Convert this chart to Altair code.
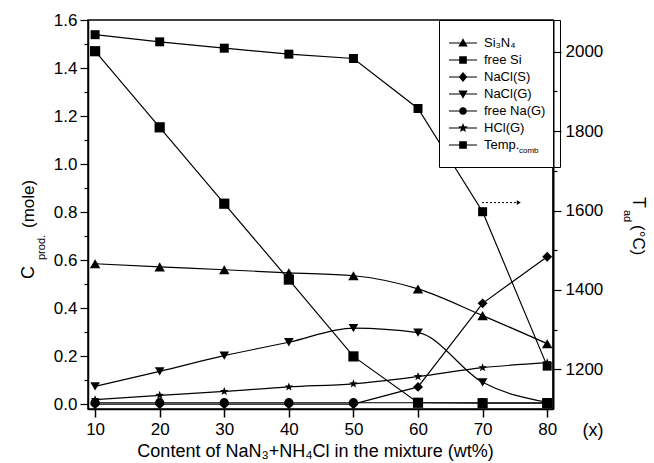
import math
import altair as alt
import pandas as pd

# ---- data -----------------------------------------------------------------
content = [10, 20, 30, 40, 50, 60, 70, 80]
si3n4 = [0.585, 0.572, 0.560, 0.547, 0.535, 0.480, 0.369, 0.252]
free_si = [1.470, 1.153, 0.835, 0.519, 0.199, 0.006, 0.004, 0.004]
nacl_s = [0.0, 0.0, 0.0, 0.0, 0.0, 0.072, 0.420, 0.614]
nacl_g = [0.074, 0.137, 0.202, 0.258, 0.317, 0.298, 0.091, 0.008]
free_na = [0.006, 0.006, 0.006, 0.006, 0.006, 0.006, 0.006, 0.006]
hcl_g = [0.019, 0.037, 0.053, 0.072, 0.085, 0.115, 0.152, 0.173]
temp_comb = [2043, 2025, 2009, 1994, 1983, 1857, 1597, 1208]

series_names = ["Si₃N₄", "free Si", "NaCl(S)", "NaCl(G)", "free Na(G)", "HCl(G)"]
temp_name = "Temp."
smooth_series = ["Si₃N₄", "NaCl(G)", "HCl(G)"]

x_ticks = [10, 20, 30, 40, 50, 60, 70, 80]
y_ticks = [round(0.1 * i, 1) for i in range(17)]
t_ticks = [1200, 1300, 1400, 1500, 1600, 1700, 1800, 1900, 2000]

X_DOMAIN = [8.9, 80.9]
Y_DOMAIN = [-0.02, 1.6]
T_DOMAIN = [1100, 2080]
FONT = "Liberation Sans"

left_values = [si3n4, free_si, nacl_s, nacl_g, free_na, hcl_g]
rows = []
for name, vals in zip(series_names, left_values):
    for xv, yv in zip(content, vals):
        rows.append({"content": xv, "value": yv, "series": name})
left_df = pd.DataFrame(rows)
temp_df = pd.DataFrame({"content": content, "temp": temp_comb, "series": temp_name})
legend_df = pd.concat([left_df[["content", "series"]], temp_df[["content", "series"]]])

# ---- marker shapes ----------------------------------------------------------
def star_path(r_out, r_in, cx=0.0):
    pts = []
    for i in range(10):
        ang = -math.pi / 2 + i * math.pi / 5
        r = r_out if i % 2 == 0 else r_in
        pts.append(f"{cx + r * math.cos(ang):.3f},{r * math.sin(ang):.3f}")
    return "M" + "L".join(pts) + "Z"

plot_shapes = ["triangle-up", "square", "diamond", "triangle-down", "circle",
               star_path(1.0, 0.42)]
plot_sizes = [110, 81, 110, 110, 95, 130]

# legend glyphs: a thin bar (the line) plus the marker, all wound clockwise
bar = "M-1.65,-0.06H1.65V0.06H-1.65Z"
legend_shapes = [
    bar + "M0,-0.55L0.55,0.4L-0.55,0.4Z",
    bar + "M-0.45,-0.45H0.45V0.45H-0.45Z",
    bar + "M0,-0.6L0.5,0L0,0.6L-0.5,0Z",
    bar + "M0,0.55L-0.55,-0.4L0.55,-0.4Z",
    bar + "M-0.45,0A0.45,0.45 0 1,1 0.45,0A0.45,0.45 0 1,1 -0.45,0Z",
    bar + star_path(0.6, 0.25),
    bar + "M-0.45,-0.45H0.45V0.45H-0.45Z",
]

# ---- encodings -------------------------------------------------------------
x_enc = alt.X(
    "content:Q",
    scale=alt.Scale(domain=X_DOMAIN, nice=False, zero=False),
    axis=alt.Axis(
        values=x_ticks, format="d", title="Content of NaN₃+NH₄Cl in the mixture (wt%)",
        titleFont=FONT, titleFontSize=18, titleFontWeight="normal", titleColor="black",
        titlePadding=5, titleX=227, labelFont=FONT, labelFontSize=17, labelColor="black",
        labelPadding=4, labelFlush=False, tickSize=8, tickColor="black", tickWidth=1.5,
        domainColor="black", domainWidth=1.5, grid=False,
    ),
)

major_left = "round(datum.value * 10) % 2 == 0"
y_left_axis = alt.Axis(
    values=y_ticks, title=None, grid=False,
    labelExpr=f"{major_left} ? format(datum.value, '.1f') : ''",
    labelFont=FONT, labelFontSize=17, labelColor="black", labelPadding=3,
    labelFlush=False, labelOverlap=False,
    tickSize={"condition": {"test": major_left, "value": 8}, "value": 4},
    tickColor="black", tickWidth=1.2, domainColor="black", domainWidth=1.5,
)
y_scale = alt.Scale(domain=Y_DOMAIN, nice=False, zero=False)

major_right = "datum.value % 200 == 0"
t_axis = alt.Axis(
    orient="right", values=t_ticks, title=None, grid=False,
    labelExpr=f"{major_right} ? format(datum.value, 'd') : ''",
    labelFont=FONT, labelFontSize=17, labelColor="black", labelPadding=4,
    labelFlush=False, labelOverlap=False,
    tickSize={"condition": {"test": major_right, "value": 8}, "value": 4},
    tickColor="black", tickWidth=1.2, domainColor="black", domainWidth=2,
)
t_scale = alt.Scale(domain=T_DOMAIN, nice=False, zero=False)

# ---- layers ----------------------------------------------------------------
smooth_lines = alt.Chart(left_df).transform_filter(
    alt.FieldOneOfPredicate(field="series", oneOf=smooth_series)
).mark_line(color="black", strokeWidth=1.2, interpolate="monotone").encode(
    x=x_enc,
    y=alt.Y("value:Q", scale=y_scale, axis=y_left_axis),
    detail="series:N",
)

straight_lines = alt.Chart(left_df).transform_filter(
    {"not": alt.FieldOneOfPredicate(field="series", oneOf=smooth_series)}
).mark_line(color="black", strokeWidth=1.2).encode(
    x=x_enc,
    y=alt.Y("value:Q", scale=y_scale, axis=None),
    detail="series:N",
)

left_points = alt.Chart(left_df).mark_point(filled=True, color="black", opacity=1).encode(
    x=x_enc,
    y=alt.Y("value:Q", scale=y_scale, axis=None),
    shape=alt.Shape("series:N", scale=alt.Scale(domain=series_names, range=plot_shapes), legend=None),
    size=alt.Size("series:N", scale=alt.Scale(domain=series_names, range=plot_sizes), legend=None),
)

temp_line = alt.Chart(temp_df).mark_line(color="black", strokeWidth=1.2).encode(
    x=x_enc,
    y=alt.Y("temp:Q", scale=t_scale, axis=t_axis),
)
temp_points = alt.Chart(temp_df).mark_point(
    filled=True, color="black", shape="square", size=81, opacity=1
).encode(
    x=x_enc,
    y=alt.Y("temp:Q", scale=t_scale, axis=None),
)

# dotted arrow pointing at the temperature axis
arrow_df = pd.DataFrame({"x0": [69.9], "x1": [75.6], "t": [1620]})
arrow_rule = alt.Chart(arrow_df).mark_rule(color="black", strokeWidth=1, strokeDash=[2, 2]).encode(
    x=alt.X("x0:Q", scale=alt.Scale(domain=X_DOMAIN, nice=False, zero=False)),
    x2="x1:Q",
    y=alt.Y("t:Q", scale=t_scale, axis=None),
)
arrow_head = alt.Chart(arrow_df).mark_point(
    shape="triangle-right", filled=True, color="black", size=22, opacity=1
).encode(
    x=alt.X("x1:Q", scale=alt.Scale(domain=X_DOMAIN, nice=False, zero=False)),
    y=alt.Y("t:Q", scale=t_scale, axis=None),
)

# white panel behind the legend so curves pass underneath it
legend_panel = alt.Chart(pd.DataFrame({"k": [0]})).mark_rect(color="white").encode(
    x=alt.value(351), x2=alt.value(465), y=alt.value(0), y2=alt.value(148),
)

legend_layer = alt.Chart(legend_df).mark_point(
    filled=True, color="black", size=289, clip=True, opacity=1
).encode(
    x=x_enc,
    y=alt.value(-1000),
    shape=alt.Shape(
        "series:N",
        scale=alt.Scale(domain=series_names + [temp_name], range=legend_shapes),
        legend=alt.Legend(
            title=None, orient="none", legendX=351, legendY=0, padding=14.5,
            strokeColor="black", symbolSize=289,
            symbolFillColor="black", symbolStrokeWidth=0, symbolOpacity=1,
            symbolOffset=1, labelOffset=12.5, rowPadding=1,
            labelFont=FONT, labelFontSize=13, labelColor="black", labelLimit=200,
            cornerRadius=0,
        ),
    ),
)

def label(text, x, y, size, angle=0, align="left", baseline="alphabetic"):
    return alt.Chart(pd.DataFrame({"k": [0]})).mark_text(
        text=text, font=FONT, fontSize=size, color="black", angle=angle,
        align=align, baseline=baseline,
    ).encode(x=alt.value(x), y=alt.value(y))

# axis titles with subscripts, positions relative to the plot area
titles = [
    label("C", -54, 259, 18, angle=270),
    label("prod.", -43, 240, 11, angle=270),
    label("(mole)", -54, 208, 17, angle=270),
    label("T", 545, 177, 18, angle=90),
    label("ad", 536, 190, 11, angle=90),
    label("(°C)", 545, 205, 17, angle=90),
    label("(x)", 505, 416, 18, align="center"),
    label("comb", 431, 133, 8),
]

chart = alt.layer(
    smooth_lines, straight_lines, left_points, temp_line, temp_points,
    arrow_rule, arrow_head, legend_panel, legend_layer, *titles,
).resolve_scale(
    y="independent", shape="independent", size="independent"
).properties(
    width=465, height=389,
    autosize=alt.AutoSizeParams(type="none"),
    padding={"left": 88, "top": 20, "right": 101, "bottom": 54},
    background="white",
).configure_view(
    stroke="black", strokeWidth=1.5
).configure_legend(
    strokeWidth=1
)

chart.save("out.html", embed_options={"renderer": "svg", "actions": False})
